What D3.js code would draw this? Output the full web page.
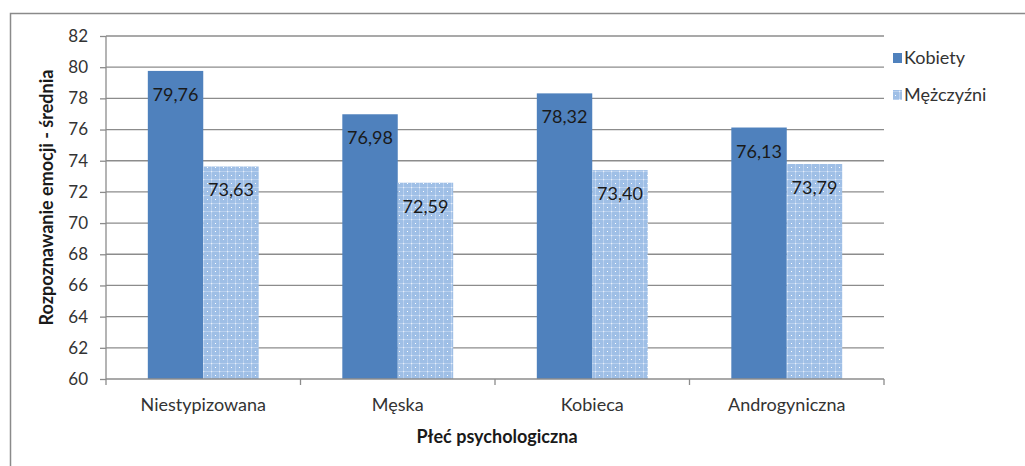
<!DOCTYPE html>
<html><head><meta charset="utf-8">
<script src="https://cdn.jsdelivr.net/npm/d3@7"></script>
<style>body{margin:0;background:#fff;} svg{display:block;}</style>
</head><body>
<svg id="c" width="1025" height="466"></svg>
<script>
const categories = ["Niestypizowana", "Męska", "Kobieca", "Androgyniczna"];
const seriesNames = ["Kobiety", "Mężczyźni"];
const kobiety = [79.76, 76.98, 78.32, 76.13];
const mezczyzni = [73.63, 72.59, 73.40, 73.79];
const yTicks = [60, 62, 64, 66, 68, 70, 72, 74, 76, 78, 80, 82];

(function(){
const font = "Lato, 'Open Sans', sans-serif";
const svg = d3.select("#c");
const defs = svg.append("defs");
const pat = defs.append("pattern").attr("id","dots").attr("patternUnits","userSpaceOnUse")
  .attr("width",8).attr("height",8);
pat.append("rect").attr("width",8).attr("height",8).attr("fill","#9fbfe6");
pat.append("rect").attr("x",0).attr("y",3).attr("width",8).attr("height",1).attr("fill","#b9d0ee");
pat.append("rect").attr("x",3).attr("y",0).attr("width",1).attr("height",8).attr("fill","#b9d0ee");
pat.append("rect").attr("x",7).attr("y",7).attr("width",1.5).attr("height",1.5).attr("fill","#ffffff");
pat.append("rect").attr("x",3).attr("y",3).attr("width",1.2).attr("height",1.2).attr("fill","#e8f0fb");

// outer frame
svg.append("path").attr("d","M10.5,466 V13.5 H1025").attr("fill","none").attr("stroke","#8a8a8a").attr("stroke-width",1.5);

const pl = 106, pr = 884, pt = 36, pb = 379;
const x = d3.scaleBand().domain(categories).range([pl,pr]).paddingInner(0.43).paddingOuter(0.215);
const xs = d3.scaleBand().domain(seriesNames).range([0, x.bandwidth()]);
const y = d3.scaleLinear().domain([60,82]).range([pb, pt]);

// gridlines
svg.append("g").selectAll("line").data(yTicks.slice(1)).join("line")
  .attr("x1",pl).attr("x2",pr).attr("y1",d=>y(d)).attr("y2",d=>y(d))
  .attr("stroke","#8c8c8c").attr("stroke-width",1.3);

const series = [kobiety, mezczyzni];
const fills = ["#4f81bd", "url(#dots)"];
series.forEach((vals, si) => {
  const g = svg.append("g");
  g.selectAll("rect").data(vals).join("rect")
    .attr("x",(d,i)=>x(categories[i]) + xs(seriesNames[si]))
    .attr("width", xs.bandwidth())
    .attr("y", d=>y(d)).attr("height", d=>pb - y(d))
    .attr("fill", fills[si]);
  g.selectAll("text").data(vals).join("text")
    .attr("x",(d,i)=>x(categories[i]) + xs(seriesNames[si]) + xs.bandwidth()/2)
    .attr("y", d=>y(d)+30)
    .attr("text-anchor","middle").attr("font-family",font).attr("font-size",18)
    .attr("fill","#1a1a1a")
    .text(d=>d.toFixed(2).replace(".", ","));
});

// y axis
const yAxis = svg.append("g").attr("transform",`translate(${pl},0)`)
  .call(d3.axisLeft(y).tickValues(yTicks).tickSize(6).tickPadding(12).tickFormat(d=>d));
yAxis.select(".domain").attr("stroke","#8c8c8c").attr("stroke-width",1.3).attr("d",`M0,${pt}V${pb}`);
yAxis.selectAll(".tick line").attr("stroke","#8c8c8c").attr("stroke-width",1.3);
yAxis.selectAll(".tick text").attr("font-family",font).attr("font-size",17).attr("fill","#333");

// x axis
const xAxis = svg.append("g").attr("transform",`translate(0,${pb})`)
  .call(d3.axisBottom(x).tickSize(0).tickPadding(19));
xAxis.select(".domain").attr("stroke","#8c8c8c").attr("stroke-width",1.3).attr("d",`M${pl},0H${pr}`);
xAxis.selectAll(".tick text").attr("font-family",font).attr("font-size",18).attr("fill","#333");
const step = (pr-pl)/categories.length;
svg.append("g").selectAll("line").data(d3.range(categories.length+1)).join("line")
  .attr("x1",i=>pl+i*step).attr("x2",i=>pl+i*step).attr("y1",pb).attr("y2",pb+6)
  .attr("stroke","#8c8c8c").attr("stroke-width",1.3);

// axis titles
svg.append("text").attr("transform",`translate(53,${(pt+pb)/2-10}) rotate(-90)`)
  .attr("text-anchor","middle").attr("font-family",font).attr("font-weight","bold").attr("font-size",18)
  .attr("fill","#1a1a1a").text("Rozpoznawanie emocji - średnia");
svg.append("text").attr("x",497).attr("y",443).attr("text-anchor","middle")
  .attr("font-family",font).attr("font-weight","bold").attr("font-size",18).attr("fill","#1a1a1a")
  .text("Płeć psychologiczna");

// legend
const leg = svg.append("g");
seriesNames.forEach((n,i)=>{
  const ly = 58 + i*37;
  leg.append("rect").attr("x",893).attr("y",ly-5).attr("width",9).attr("height",10).attr("fill",fills[i]);
  leg.append("text").attr("x",904).attr("y",ly+6).attr("font-family",font).attr("font-size",18)
    .attr("fill","#333").text(n);
});
})();
</script>
</body></html>
